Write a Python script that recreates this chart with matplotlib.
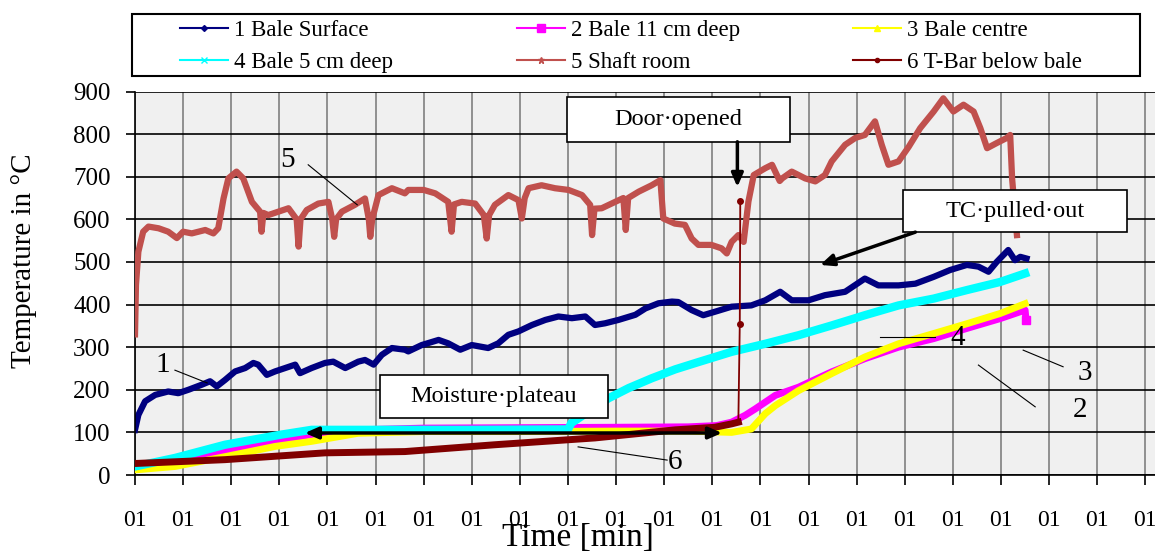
import matplotlib.pyplot as plt
from matplotlib.lines import Line2D
from matplotlib.patches import Rectangle

# ---- data (x in tick units, y in deg C) ----
surf_x = [0.0, 0.07, 0.21, 0.42, 0.69, 0.9, 1.11, 1.39, 1.56, 1.70, 1.87, 2.08, 2.29, 2.46, 2.56, 2.74,
          2.91, 3.12, 3.33, 3.43, 3.67, 3.95, 4.12, 4.37, 4.64, 4.78, 4.96, 5.13, 5.34, 5.61, 5.68, 5.96,
          6.31, 6.51, 6.76, 7.0, 7.34, 7.55, 7.76, 7.97, 8.25, 8.53, 8.80, 9.08, 9.36, 9.56, 9.77, 10.05,
          10.40, 10.61, 10.88, 11.16, 11.29, 11.57, 11.81, 12.05, 12.40, 12.81, 13.10, 13.41, 13.65, 14.00,
          14.34, 14.76, 15.17, 15.45, 15.87, 16.22, 16.60, 16.94, 17.29, 17.53, 17.74, 17.91, 18.15, 18.29,
          18.40, 18.53]
surf_y = [106, 141, 173, 188, 196, 192, 200, 212, 220, 208, 223, 243, 251, 263, 259, 235,
          243, 251, 259, 239, 251, 263, 266, 251, 266, 270, 259, 282, 298, 294, 290, 305,
          317, 309, 294, 305, 298, 309, 329, 337, 352, 364, 372, 368, 372, 352, 356, 364,
          376, 391, 403, 407, 406, 387, 375, 383, 395, 398, 410, 430, 410, 410,
          422, 430, 461, 445, 445, 449, 465, 481, 493, 489, 477, 500, 528, 504,
          512, 508]

deep11_x = [0.0, 0.83, 1.87, 2.91, 3.67, 4.64, 6.0, 8.0, 10.0, 11.5, 12.09, 12.40, 12.68, 12.89, 13.31,
            13.79, 14.48, 15.17, 15.87, 16.60, 17.29, 17.98, 18.50, 18.52]
deep11_y = [20, 28, 55, 79, 95, 106, 110, 111, 112, 113, 116, 124, 140, 155, 187,
            206, 242, 273, 300, 320, 344, 367, 387, 363]

centre_x = [0.0, 0.83, 1.87, 2.91, 3.67, 4.64, 6.0, 8.0, 10.0, 11.5, 12.40, 12.81, 13.10, 13.31,
            13.79, 14.48, 15.17, 15.87, 16.60, 17.29, 17.98, 18.50]
centre_y = [12, 20, 43, 67, 79, 98, 102, 102, 103, 103, 100, 108, 144, 163,
            198, 238, 277, 308, 332, 355, 379, 402]

deep5_x = [0.0, 0.83, 1.87, 3.05, 3.67, 5.0, 7.0, 9.0, 9.07, 9.84, 10.26, 10.74, 11.23, 11.71, 12.40,
           13.10, 13.79, 14.48, 15.17, 15.87, 16.60, 17.29, 17.98, 18.50]
deep5_y = [20, 40, 71, 95, 106, 106, 106, 107, 122, 180, 204, 227, 248, 265, 289,
           308, 328, 351, 375, 398, 414, 434, 453, 473]

shaft_x = [0.0, 0.02, 0.07, 0.17, 0.28, 0.49, 0.69, 0.87, 1.0, 1.18, 1.46, 1.63, 1.73, 1.84, 1.94, 2.11,
           2.25, 2.43, 2.6, 2.63, 2.67, 2.77, 2.98, 3.19, 3.36, 3.40, 3.44, 3.57, 3.81, 4.02, 4.10, 4.14,
           4.18, 4.30, 4.57, 4.78, 4.86, 4.89, 4.93, 5.06, 5.34, 5.61, 5.68, 6.0, 6.24, 6.51, 6.58, 6.63,
           6.79, 7.07, 7.25, 7.31, 7.36, 7.48, 7.76, 7.97, 8.04, 8.10, 8.18, 8.45, 8.73, 9.01, 9.29, 9.46,
           9.50, 9.55, 9.70, 9.98, 10.15, 10.20, 10.25, 10.47, 10.74, 10.92, 10.98, 11.22, 11.43, 11.57,
           11.71, 11.98, 12.19, 12.30, 12.40, 12.54, 12.65, 12.75, 12.86, 13.10, 13.24, 13.40, 13.45, 13.65,
           13.93, 14.14, 14.34, 14.48, 14.76, 14.97, 15.17, 15.38, 15.52, 15.66, 15.87, 16.08, 16.32, 16.60,
           16.80, 17.01, 17.22, 17.43, 17.57, 17.71, 17.91, 18.12, 18.19, 18.23, 18.30, 18.33]
shaft_y = [330, 446, 524, 571, 583, 579, 571, 556, 571, 567, 575, 567, 579, 649, 696, 712,
           696, 641, 618, 571, 615, 610, 618, 626, 600, 536, 600, 622, 637, 641, 600, 559,
           600, 618, 634, 649, 600, 559, 600, 657, 673, 661, 669, 669, 661, 641, 571, 635,
           641, 637, 610, 555, 610, 634, 657, 645, 602, 650, 673, 680, 673, 669, 657, 634,
           563, 625, 626, 641, 650, 575, 650, 665, 680, 692, 602, 590, 587, 555,
           540, 540, 532, 520, 547, 563, 547, 642, 704, 720, 728, 690, 696, 712,
           696, 689, 704, 736, 775, 791, 798, 830, 775, 728, 736, 770, 814, 853,
           884, 853, 869, 853, 814, 767, 779, 791, 798, 696, 602, 563]

# T-bar: slow rise, then the spike when the door was opened
tbar_x = [0.0, 1.87, 3.95, 5.61, 7.48, 9.56, 11.23, 12.05, 12.40, 12.54]
tbar_y = [27, 36, 52, 55, 71, 87, 106, 112, 120, 124]
spike_x = [12.54, 12.57, 12.58]
spike_y = [124, 355, 643]

x_ticks = list(range(22))
x_labels = ['01'] * 22
y_ticks = list(range(0, 1000, 100))

plt.rcParams['font.family'] = ['Liberation Serif', 'DejaVu Serif']

fig = plt.figure(figsize=(11.55, 5.52), dpi=100)
ax = fig.add_axes([135 / 1155, 1 - 475 / 552, 1020 / 1155, (475 - 91.5) / 552])
ax.set_facecolor('#F0F0F0')
ax.set_xlim(0, 21.2)
ax.set_ylim(0, 900)

for x in x_ticks:
    ax.axvline(x, color='#808080', lw=1.2, zorder=0)
for y in y_ticks:
    ax.axhline(y, color='black', lw=1.2, zorder=0.5)

ax.plot(surf_x, surf_y, color='#000080', lw=4.5, solid_joinstyle='round', zorder=2)
ax.plot(deep11_x, deep11_y, color='#FF00FF', lw=5, zorder=3)
ax.plot(deep11_x[-1:], deep11_y[-1:], 's', color='#FF00FF', ms=6, zorder=3)
ax.plot(centre_x, centre_y, color='#FFFF00', lw=5, zorder=4)
ax.plot(deep5_x, deep5_y, color='#00FFFF', lw=6, zorder=5)
ax.plot(shaft_x, shaft_y, color='#C0504D', lw=4.5, solid_joinstyle='round', zorder=6)
ax.plot(tbar_x, tbar_y, color='#800000', lw=5, zorder=7)
ax.plot(spike_x, spike_y, color='#800000', lw=1.3, zorder=8)
ax.plot(spike_x[1:], spike_y[1:], 'o', color='#800000', ms=4, zorder=8)

for s in ['top', 'right']:
    ax.spines[s].set_visible(False)
ax.spines['left'].set_linewidth(1.2)
ax.spines['bottom'].set_linewidth(1.2)

ax.set_xticks(x_ticks)
ax.set_xticklabels(x_labels, fontsize=17)
ax.set_yticks(y_ticks)
ax.set_yticklabels([str(v) for v in y_ticks], fontsize=18)
ax.tick_params(axis='x', length=7, width=1.2, pad=18, direction='out')
ax.tick_params(axis='y', length=6.5, width=1.2, pad=11, direction='out')
ax.set_ylabel('Temperature in °C', fontsize=21)
ax.yaxis.set_label_coords(-0.096, 0.558)
ax.set_xlabel('Time [min]', fontsize=24)
ax.xaxis.set_label_coords(0.434, -0.125)
ax.xaxis.label.set_va('top')

# legend: three columns, rows 1 2 3 / 4 5 6
h = [
    Line2D([], [], color='#000080', lw=1.5, marker='D', ms=3),
    Line2D([], [], color='#FF00FF', lw=1.5, marker='s', ms=6),
    Line2D([], [], color='#FFFF00', lw=1.5, marker='^', ms=4),
    Line2D([], [], color='#00FFFF', lw=1.5, marker='x', ms=4),
    Line2D([], [], color='#C0504D', lw=1.5, marker='*', ms=5),
    Line2D([], [], color='#800000', lw=1.5, marker='o', ms=3),
]
names = ['1 Bale Surface', '2 Bale 11 cm deep', '3 Bale centre',
         '4 Bale 5 cm deep', '5 Shaft room', '6 T-Bar below bale']
col_left = [180, 517, 853]
for c in range(3):
    fig.legend([h[c], h[c + 3]], [names[c], names[c + 3]], loc='center left',
               bbox_to_anchor=(col_left[c] / 1155, 1 - 46.5 / 552), fontsize=16.5,
               frameon=False, handlelength=2.1, handletextpad=0.25, borderpad=0,
               labelspacing=0.45, borderaxespad=0)
fig.add_artist(Rectangle((132 / 1155, 1 - 76 / 552), 1008 / 1155, 62 / 552,
                         transform=fig.transFigure, fill=False, edgecolor='black', lw=1.5))


def text_box(x0, x1, y0, y1, txt):
    ax.add_patch(Rectangle((x0, y0), x1 - x0, y1 - y0, facecolor='white',
                           edgecolor='black', lw=1.2, zorder=10))
    ax.text((x0 + x1) / 2, (y0 + y1) / 2, txt, fontsize=17.5, ha='center', va='center', zorder=11)


def arrow(x1, y1, x2, y2, both=False):
    style = '<|-|>' if both else '-|>'
    ax.annotate('', xy=(x2, y2), xytext=(x1, y1), zorder=12,
                arrowprops=dict(arrowstyle=style + ',head_length=0.8,head_width=0.35',
                                color='black', lw=2.5, shrinkA=0, shrinkB=0))


text_box(8.98, 13.62, 782, 887, 'Door·opened')
arrow(12.52, 782, 12.52, 676)
text_box(15.97, 20.62, 570, 669, 'TC·pulled·out')
arrow(16.22, 570, 14.24, 493)
text_box(5.09, 9.83, 134, 235, 'Moisture·plateau')
arrow(3.53, 98.6, 12.2, 98.6, both=True)

# series numbers with leader lines
labels = [('1', 0.58, 258, 0.83, 246, 1.50, 216),
          ('5', 3.16, 739, 3.60, 728, 4.62, 634),
          ('4', 17.09, 322, 15.49, 324, 16.63, 324),
          ('3', 19.75, 239, 18.46, 293, 19.29, 254),
          ('2', 19.65, 153, 17.53, 258, 18.71, 160),
          ('6', 11.23, 31, 9.21, 66, 11.06, 35)]
for t, tx, ty, ax1, ay1, ax2, ay2 in labels:
    ax.plot([ax1, ax2], [ay1, ay2], color='black', lw=0.8, zorder=9)
    ax.text(tx, ty, t, fontsize=21, ha='center', va='center', zorder=9)

fig.savefig('out.png', dpi=100)
